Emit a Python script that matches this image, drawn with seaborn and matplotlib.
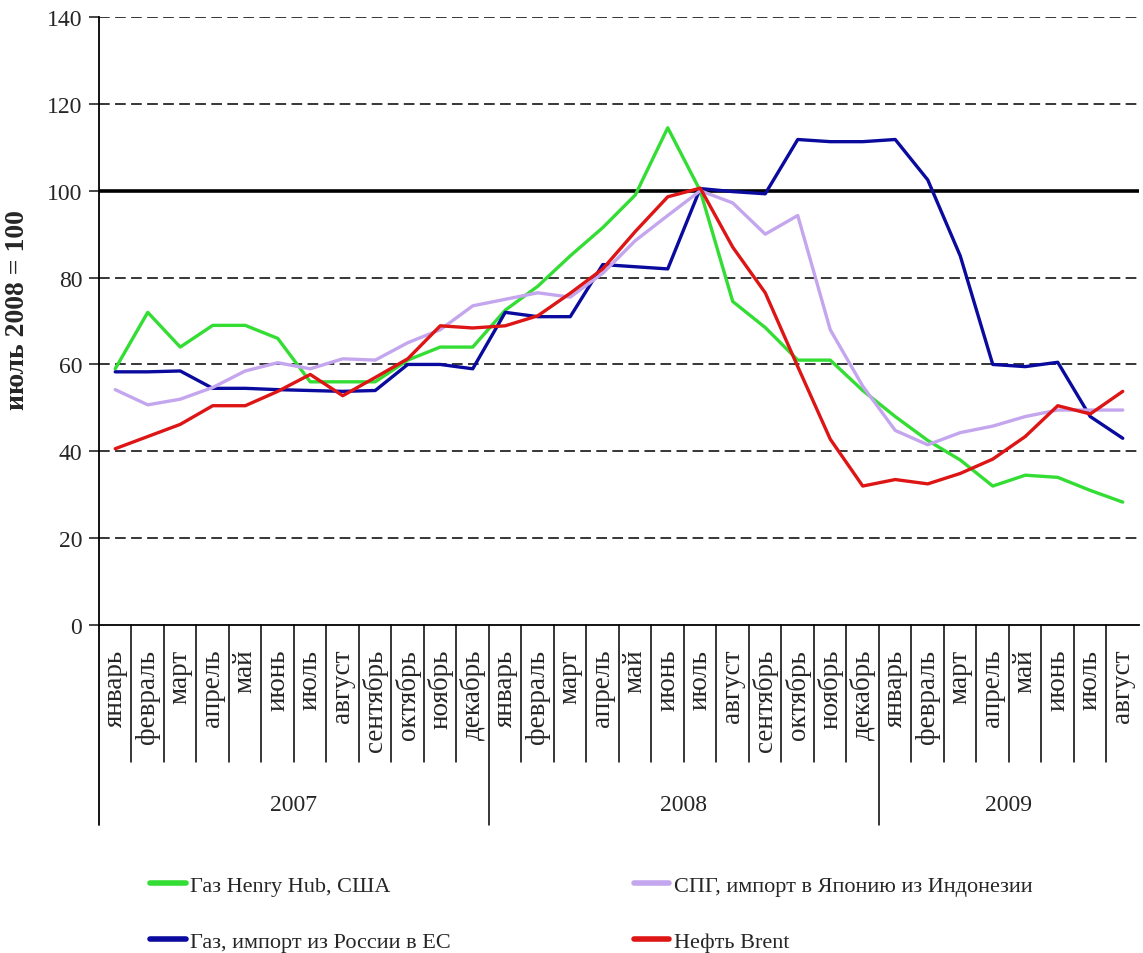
import numpy as np
import pandas as pd
import matplotlib
matplotlib.use('Agg')
import matplotlib.pyplot as plt
import seaborn as sns

sns.set_style('white')
plt.rcParams['font.family'] = ['Liberation Serif', 'DejaVu Serif']

# месяцы и годы
month_names = ['январь', 'февраль', 'март', 'апрель', 'май', 'июнь', 'июль', 'август',
               'сентябрь', 'октябрь', 'ноябрь', 'декабрь']
months = month_names * 2 + month_names[:8]
years = ['2007', '2008', '2009']

# индексы, июль 2008 = 100
henry_hub = [59, 72, 64, 69, 69, 66, 56, 56, 56, 61, 64, 64,
             72.5, 78, 85, 91.5, 99, 114.5, 100, 74.5, 68.5, 61, 61, 54,
             48, 42.5, 38, 32, 34.5, 34, 31, 28.3]
russia_eu = [58.3, 58.3, 58.5, 54.5, 54.5, 54.2, 54, 53.8, 54, 60, 60, 59,
             72, 71, 71, 83, 82.5, 82, 100.5, 99.8, 99.3, 111.8, 111.3, 111.3,
             111.8, 102.5, 85, 60, 59.5, 60.5, 48, 43]
lng_japan = [54.2, 50.7, 52, 54.7, 58.5, 60.4, 59, 61.3, 61, 65, 68, 73.5,
             75, 76.5, 75.5, 81, 88.5, 94.3, 100, 97.2, 90, 94.3, 68, 55,
             44.8, 41.5, 44.3, 45.8, 48, 49.5, 49.5, 49.5]
brent = [40.6, 43.4, 46.2, 50.5, 50.5, 53.8, 57.7, 52.8, 57, 61.3, 68.9, 68.4,
         68.9, 71.2, 76.4, 82, 90.6, 98.6, 100.6, 87, 76.5, 59.5, 42.8, 32,
         33.5, 32.5, 34.9, 38.2, 43.4, 50.5, 48.6, 53.8]

series = {
    'Газ Henry Hub, США': henry_hub,
    'Газ, импорт из России в ЕС': russia_eu,
    'СПГ, импорт в Японию из Индонезии': lng_japan,
    'Нефть Brent': brent,
}
colors = ['#33dd33', '#0a0a9e', '#c4a6ee', '#dd1515']

df = pd.concat([pd.DataFrame({'x': range(len(months)), 'y': v, 'name': k})
                for k, v in series.items()], ignore_index=True)

fig = plt.figure(figsize=(11.43, 9.54), dpi=100)
ax = fig.add_axes([0.0866, 0.3438, 0.9099, 0.6373])

# сетка
for v in range(20, 141, 20):
    if v != 100:
        ax.axhline(v, color='black', lw=1.1, ls=(0, (7, 3.5)), zorder=1)
ax.axhline(100, color='black', lw=2.6, zorder=1)

sns.lineplot(data=df, x='x', y='y', hue='name', palette=colors, lw=2.4,
             sort=False, legend=False, ax=ax, zorder=3)

ax.set_xlim(-0.5, len(months) - 0.5)
ax.set_ylim(0, 140)
ax.set_yticks(range(0, 141, 20))
ax.tick_params(axis='y', labelsize=17, length=7, width=1.2, direction='out', left=True, pad=5)
ax.set_xticks(range(len(months)))
ax.set_xticklabels(months, rotation=90, fontsize=19.5)
ax.tick_params(axis='x', length=0, pad=17)
for lbl in ax.get_xticklabels():
    lbl.set_va('top')

for s in ['top', 'right']:
    ax.spines[s].set_visible(False)
for s in ['left', 'bottom']:
    ax.spines[s].set_linewidth(1.3)
    ax.spines[s].set_color('black')

ax.set_xlabel('')
ax.set_ylabel('июль 2008 = 100', fontsize=20, fontweight='bold')
ax.yaxis.set_label_coords(-0.066, 0.52)

# разделители месяцев и годов под осью
tr = ax.get_xaxis_transform()
for i in range(len(months) - 1):
    bottom = -0.329 if (i + 1) % 12 == 0 else -0.2253
    ax.plot([i + 0.5, i + 0.5], [0, bottom], color='black', lw=1.1, transform=tr, clip_on=False)
ax.plot([-0.5, -0.5], [0, -0.329], color='black', lw=1.3, transform=tr, clip_on=False)
for k, yr in enumerate(years):
    n = min(12, len(months) - 12 * k)
    ax.text(12 * k + (n - 1) / 2, -0.296, yr, transform=tr, ha='center', va='center', fontsize=17)

# легенда
handles = [plt.Line2D([], [], color=c, lw=4, solid_capstyle='round') for c in colors]
names = list(series.keys())
leg_kw = dict(loc='upper left', frameon=False, fontsize=16, handlelength=1.6,
              handletextpad=0.2, labelspacing=1.62)
fig.legend(handles[:2], names[:2], bbox_to_anchor=(0.114, 0.1027), **leg_kw)
fig.legend(handles[2:], names[2:], bbox_to_anchor=(0.537, 0.1027), **leg_kw)

fig.savefig('out.png', dpi=100)
